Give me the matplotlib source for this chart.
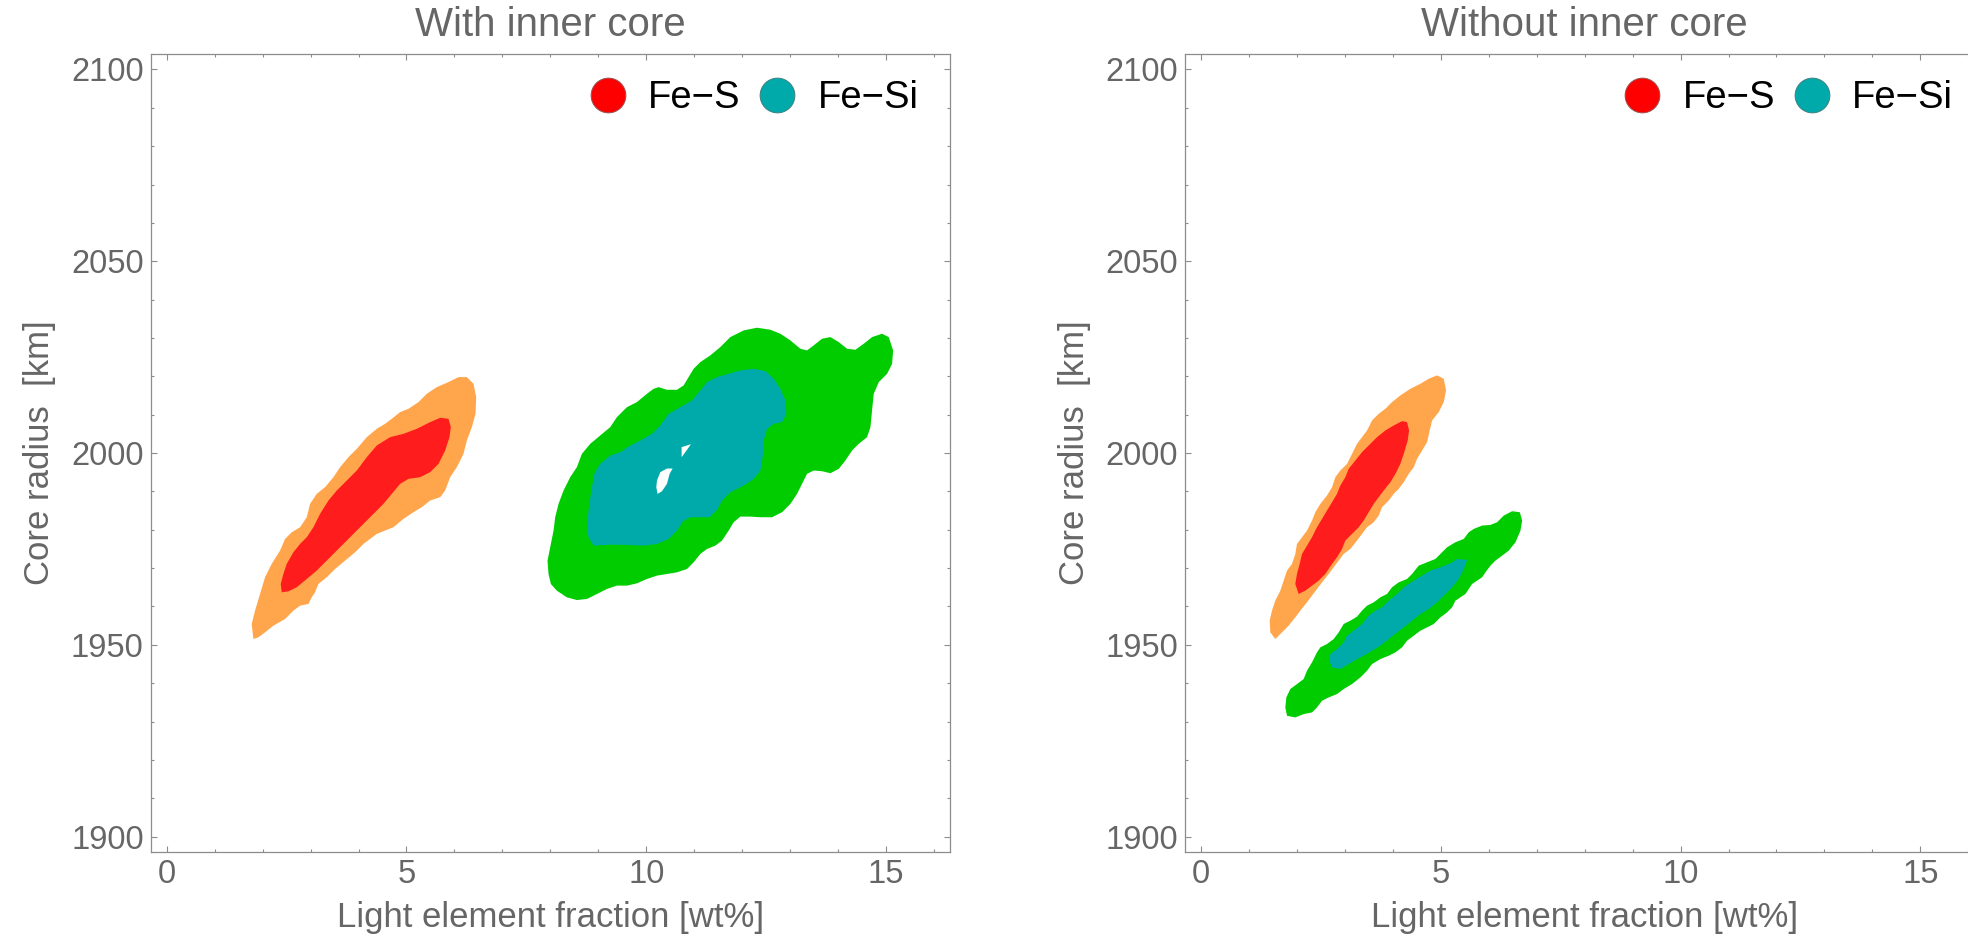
import numpy as np
import matplotlib.pyplot as plt
from matplotlib.lines import Line2D
from matplotlib.ticker import MultipleLocator

plt.rcParams['font.family'] = ['Liberation Sans', 'DejaVu Sans']

# posterior credible regions, (light element wt%, core radius km)

# with inner core, Fe-S
ic_fes_95 = np.array([
    (1.808, 1951.50), (1.773, 1955.42), (1.843, 1958.90), (1.947, 1963.25),
    (2.051, 1967.60), (2.190, 1971.08), (2.364, 1974.56), (2.469, 1977.60),
    (2.608, 1979.34), (2.782, 1980.65), (2.921, 1983.26), (2.990, 1986.74),
    (3.129, 1989.35), (3.303, 1991.09), (3.477, 1993.69), (3.616, 1996.30),
    (3.790, 1998.91), (3.964, 2001.09), (4.173, 2004.13), (4.381, 2006.31),
    (4.555, 2007.61), (4.694, 2008.92), (4.868, 2010.66), (5.042, 2011.53),
    (5.251, 2013.27), (5.424, 2015.44), (5.633, 2017.18), (5.876, 2018.49),
    (6.085, 2019.79), (6.259, 2019.79), (6.398, 2018.05), (6.454, 2014.57),
    (6.440, 2010.22), (6.363, 2006.74), (6.259, 2003.26), (6.189, 1999.78),
    (6.050, 1996.30), (5.911, 1993.69), (5.807, 1990.22), (5.703, 1988.48),
    (5.494, 1987.61), (5.320, 1985.87), (5.146, 1984.56), (4.938, 1982.82),
    (4.729, 1980.65), (4.555, 1979.78), (4.381, 1978.91), (4.242, 1977.60),
    (4.103, 1976.30), (3.929, 1974.12), (3.720, 1971.95), (3.512, 1969.77),
    (3.338, 1967.60), (3.164, 1965.86), (3.094, 1963.68), (3.025, 1962.38),
    (2.955, 1960.64), (2.782, 1960.20), (2.642, 1958.90), (2.469, 1956.72),
    (2.225, 1954.98), (2.051, 1953.24), (1.912, 1951.94),
])
ic_fes_68 = np.array([
    (2.399, 1963.68), (2.378, 1965.86), (2.434, 1968.47), (2.503, 1971.08),
    (2.642, 1974.12), (2.782, 1976.30), (2.921, 1978.04), (3.060, 1980.65),
    (3.199, 1984.13), (3.373, 1987.61), (3.547, 1990.22), (3.755, 1992.82),
    (3.964, 1995.43), (4.173, 1998.91), (4.381, 2001.96), (4.659, 2004.13),
    (4.938, 2005.00), (5.216, 2006.31), (5.494, 2008.05), (5.703, 2009.18),
    (5.876, 2008.92), (5.925, 2006.74), (5.897, 2004.13), (5.807, 2000.65),
    (5.668, 1997.17), (5.494, 1995.00), (5.285, 1993.69), (5.042, 1993.26),
    (4.868, 1991.95), (4.694, 1989.35), (4.520, 1986.74), (4.312, 1984.13),
    (4.103, 1981.52), (3.894, 1978.91), (3.686, 1976.30), (3.477, 1973.69),
    (3.303, 1971.51), (3.129, 1969.34), (2.921, 1967.16), (2.712, 1964.99),
    (2.538, 1963.94),
])

# with inner core, Fe-Si
ic_fesi_95 = np.array([
    (7.962, 1968.46), (7.941, 1971.94), (7.997, 1975.42), (8.067, 1979.77),
    (8.101, 1983.25), (8.171, 1986.73), (8.275, 1990.21), (8.414, 1993.69),
    (8.553, 1996.30), (8.658, 1999.78), (8.832, 2002.39), (9.040, 2004.56),
    (9.249, 2006.74), (9.388, 2009.35), (9.597, 2011.95), (9.805, 2013.26),
    (10.014, 2015.43), (10.153, 2016.74), (10.257, 2017.17), (10.431, 2016.48),
    (10.640, 2016.48), (10.779, 2017.61), (10.883, 2019.78), (10.988, 2021.96),
    (11.127, 2023.70), (11.335, 2025.44), (11.544, 2027.61), (11.753, 2030.22),
    (12.031, 2031.96), (12.309, 2032.66), (12.587, 2032.14), (12.796, 2031.09),
    (13.005, 2029.35), (13.213, 2027.18), (13.352, 2026.74), (13.491, 2028.05),
    (13.665, 2029.79), (13.839, 2030.22), (14.013, 2028.92), (14.187, 2027.18),
    (14.361, 2026.92), (14.535, 2028.48), (14.708, 2030.22), (14.917, 2031.09),
    (15.056, 2030.22), (15.147, 2026.74), (15.126, 2023.26), (15.022, 2020.65),
    (14.848, 2018.48), (14.743, 2015.43), (14.708, 2011.09), (14.674, 2006.74),
    (14.604, 2004.13), (14.430, 2002.39), (14.291, 2000.65), (14.152, 1998.04),
    (14.013, 1995.86), (13.839, 1994.73), (13.665, 1995.25), (13.491, 1995.43),
    (13.352, 1994.56), (13.248, 1991.95), (13.144, 1989.34), (13.005, 1986.73),
    (12.831, 1984.55), (12.622, 1983.25), (12.379, 1983.25), (12.170, 1983.42),
    (11.961, 1983.42), (11.822, 1981.94), (11.718, 1979.77), (11.579, 1977.16),
    (11.440, 1975.85), (11.266, 1974.98), (11.127, 1973.68), (10.988, 1971.50),
    (10.849, 1969.76), (10.640, 1968.89), (10.431, 1968.46), (10.223, 1968.03),
    (10.014, 1967.16), (9.805, 1966.02), (9.597, 1965.42), (9.388, 1965.42),
    (9.179, 1964.55), (8.971, 1963.24), (8.762, 1961.94), (8.553, 1961.67),
    (8.345, 1962.37), (8.136, 1964.11), (8.011, 1965.85),
])
ic_fesi_68 = np.array([
    (8.901, 1975.85), (8.797, 1978.03), (8.762, 1980.64), (8.797, 1984.99),
    (8.845, 1989.34), (8.915, 1994.56), (9.040, 1997.17), (9.249, 1999.34),
    (9.458, 2000.21), (9.666, 2001.95), (9.875, 2003.26), (10.118, 2005.00),
    (10.292, 2007.17), (10.466, 2010.22), (10.709, 2011.95), (10.953, 2013.69),
    (11.127, 2016.30), (11.266, 2018.48), (11.475, 2019.78), (11.718, 2020.65),
    (11.961, 2021.52), (12.240, 2021.96), (12.483, 2021.35), (12.657, 2019.35),
    (12.796, 2016.74), (12.900, 2013.69), (12.921, 2010.22), (12.831, 2008.04),
    (12.657, 2007.61), (12.518, 2006.30), (12.448, 2003.26), (12.427, 1998.91),
    (12.379, 1995.43), (12.240, 1993.25), (12.031, 1991.51), (11.753, 1989.77),
    (11.579, 1987.60), (11.475, 1985.16), (11.321, 1983.25), (11.127, 1983.25),
    (10.918, 1983.25), (10.765, 1982.20), (10.640, 1979.77), (10.466, 1977.59),
    (10.223, 1976.29), (9.944, 1975.85), (9.597, 1976.03), (9.249, 1976.11),
])
# small gaps inside the Fe-Si 68% region
ic_fesi_gaps = [
    np.array([(10.737, 2001.52), (10.932, 2002.30), (10.849, 2000.82),
              (10.737, 1998.91)]),
    np.array([(10.223, 1992.82), (10.292, 1994.99), (10.431, 1995.95),
              (10.549, 1995.95), (10.487, 1994.56), (10.431, 1991.95),
              (10.327, 1990.03), (10.236, 1989.34), (10.209, 1991.08)]),
]

# without inner core, Fe-S
noic_fes_95 = np.array([
    (1.446, 1953.24), (1.432, 1956.29), (1.481, 1958.90), (1.550, 1961.51),
    (1.655, 1964.12), (1.724, 1966.73), (1.794, 1969.34), (1.898, 1971.08),
    (1.967, 1973.69), (2.002, 1976.30), (2.107, 1978.04), (2.211, 1979.78),
    (2.315, 1982.39), (2.385, 1984.56), (2.489, 1986.74), (2.628, 1988.91),
    (2.733, 1991.09), (2.802, 1993.69), (2.906, 1995.43), (3.046, 1997.17),
    (3.150, 1999.78), (3.254, 2002.39), (3.358, 2004.13), (3.463, 2005.87),
    (3.567, 2008.48), (3.706, 2010.22), (3.845, 2011.53), (3.984, 2013.27),
    (4.158, 2015.01), (4.367, 2016.75), (4.576, 2018.05), (4.750, 2019.36),
    (4.923, 2020.23), (5.062, 2019.36), (5.111, 2016.31), (5.062, 2013.27),
    (4.958, 2010.66), (4.819, 2008.48), (4.770, 2005.87), (4.715, 2002.83),
    (4.610, 2000.65), (4.506, 1998.48), (4.437, 1996.30), (4.332, 1994.56),
    (4.228, 1992.39), (4.124, 1990.65), (4.019, 1989.35), (3.915, 1987.61),
    (3.776, 1985.87), (3.706, 1983.69), (3.602, 1981.95), (3.463, 1980.65),
    (3.358, 1978.91), (3.254, 1977.17), (3.115, 1974.99), (2.976, 1973.69),
    (2.872, 1971.95), (2.767, 1970.21), (2.663, 1968.47), (2.524, 1966.29),
    (2.419, 1964.55), (2.315, 1962.81), (2.211, 1961.07), (2.072, 1958.90),
    (1.967, 1957.16), (1.828, 1954.98), (1.689, 1953.24), (1.550, 1951.50),
])
noic_fes_68 = np.array([
    (2.037, 1963.25), (1.967, 1965.86), (2.002, 1968.47), (2.058, 1971.08),
    (2.107, 1973.69), (2.211, 1975.86), (2.315, 1978.04), (2.419, 1980.65),
    (2.524, 1982.82), (2.628, 1985.00), (2.733, 1987.17), (2.837, 1989.35),
    (2.906, 1991.52), (3.011, 1993.69), (3.080, 1995.87), (3.219, 1998.04),
    (3.358, 2000.22), (3.497, 2001.96), (3.671, 2004.13), (3.845, 2005.87),
    (4.019, 2007.18), (4.193, 2008.31), (4.297, 2008.05), (4.339, 2005.87),
    (4.311, 2003.26), (4.228, 1999.78), (4.158, 1997.17), (4.054, 1994.56),
    (3.950, 1992.39), (3.810, 1990.22), (3.706, 1988.48), (3.602, 1986.74),
    (3.497, 1984.56), (3.393, 1982.39), (3.289, 1980.65), (3.150, 1978.91),
    (3.011, 1977.17), (2.941, 1974.99), (2.837, 1972.82), (2.733, 1971.08),
    (2.593, 1968.47), (2.454, 1966.73), (2.315, 1965.42), (2.176, 1964.12),
])

# without inner core, Fe-Si
noic_fesi_95 = np.array([
    (1.794, 1931.50), (1.759, 1933.67), (1.780, 1936.28), (1.863, 1938.46),
    (2.002, 1939.76), (2.141, 1941.07), (2.211, 1943.24), (2.315, 1945.41),
    (2.419, 1948.02), (2.489, 1949.33), (2.628, 1950.20), (2.767, 1951.50),
    (2.872, 1953.24), (2.976, 1955.42), (3.115, 1956.29), (3.254, 1957.33),
    (3.358, 1958.90), (3.463, 1960.20), (3.602, 1961.07), (3.741, 1962.38),
    (3.880, 1963.25), (3.984, 1964.99), (4.124, 1966.29), (4.297, 1967.16),
    (4.402, 1968.47), (4.541, 1970.64), (4.715, 1971.51), (4.889, 1972.38),
    (4.993, 1973.69), (5.132, 1975.43), (5.306, 1976.73), (5.480, 1977.60),
    (5.584, 1979.34), (5.688, 1980.21), (5.862, 1981.08), (6.036, 1981.25),
    (6.175, 1981.95), (6.314, 1983.69), (6.488, 1984.82), (6.648, 1984.56),
    (6.697, 1982.39), (6.662, 1979.78), (6.558, 1976.73), (6.419, 1974.56),
    (6.280, 1973.25), (6.140, 1971.95), (6.036, 1970.64), (5.932, 1968.90),
    (5.862, 1967.60), (5.758, 1966.73), (5.654, 1965.86), (5.584, 1964.55),
    (5.515, 1963.25), (5.410, 1962.38), (5.306, 1961.51), (5.236, 1959.77),
    (5.132, 1958.46), (4.993, 1957.16), (4.854, 1955.42), (4.715, 1954.55),
    (4.576, 1953.68), (4.437, 1952.37), (4.297, 1951.07), (4.193, 1949.33),
    (4.054, 1948.02), (3.915, 1947.15), (3.741, 1946.28), (3.567, 1944.98),
    (3.463, 1943.24), (3.324, 1941.50), (3.150, 1939.76), (2.976, 1938.46),
    (2.837, 1937.15), (2.663, 1936.28), (2.524, 1935.41), (2.419, 1933.67),
    (2.315, 1932.37), (2.141, 1931.93), (1.967, 1931.06),
])
noic_fesi_68 = np.array([
    (2.733, 1944.11), (2.677, 1945.85), (2.698, 1947.59), (2.837, 1948.89),
    (2.976, 1950.63), (3.046, 1952.37), (3.185, 1953.68), (3.358, 1955.42),
    (3.497, 1957.59), (3.637, 1958.90), (3.776, 1959.77), (3.915, 1961.51),
    (4.089, 1963.25), (4.228, 1964.99), (4.437, 1966.73), (4.610, 1968.03),
    (4.784, 1969.34), (4.993, 1970.21), (5.202, 1971.25), (5.341, 1972.38),
    (5.550, 1972.12), (5.480, 1969.77), (5.375, 1967.16), (5.236, 1964.99),
    (5.062, 1962.81), (4.923, 1961.07), (4.750, 1959.33), (4.576, 1958.03),
    (4.402, 1956.29), (4.228, 1954.55), (4.089, 1953.24), (3.915, 1951.50),
    (3.741, 1949.76), (3.567, 1948.46), (3.393, 1947.15), (3.254, 1946.28),
    (3.080, 1944.98), (2.906, 1943.68),
])

titles = ["With inner core", "Without inner core"]
legend_labels = ["Fe\u2212S", "Fe\u2212Si"]

ORANGE = '#ffa64d'
RED = '#ff1c1c'
GREEN = '#00cc00'
TEAL = '#00aaaa'
FRAME = '#8c8c8c'
LABEL = '#666666'


def fill_region(ax, pts, color):
    ax.fill(pts[:, 0], pts[:, 1], color=color, lw=0)


def style_axes(ax, title):
    ax.set_xlim(-0.333, 16.333)
    ax.set_ylim(1895.9, 2104.1)
    ax.xaxis.set_major_locator(MultipleLocator(5))
    ax.xaxis.set_minor_locator(MultipleLocator(1))
    ax.yaxis.set_major_locator(MultipleLocator(50))
    ax.yaxis.set_minor_locator(MultipleLocator(10))
    ax.tick_params(which='both', direction='in', top=True, right=True,
                   color=FRAME, width=0.8, labelcolor=LABEL, labelsize=23.5)
    ax.tick_params(which='major', length=4.3)
    ax.tick_params(which='minor', length=2.4)
    ax.tick_params(axis='x', pad=5)
    ax.tick_params(axis='y', pad=5)
    for s in ax.spines.values():
        s.set_color(FRAME)
        s.set_linewidth(0.9)
    ax.set_title(title, fontsize=29, color=LABEL, pad=13)
    ax.set_xlabel("Light element fraction [wt%]", fontsize=25,
                  color=LABEL, labelpad=8)
    ax.set_ylabel("Core radius  [km]", fontsize=25, color=LABEL, labelpad=10.5)

    handles = [
        Line2D([], [], ls='', marker='o', markersize=25, markerfacecolor='#ff0000',
               markeredgecolor='#9a5050', markeredgewidth=0.7),
        Line2D([], [], ls='', marker='o', markersize=25, markerfacecolor=TEAL,
               markeredgecolor='#3f8080', markeredgewidth=0.7),
    ]
    ax.legend(handles, legend_labels, loc='upper right', ncol=2, frameon=False,
              fontsize=27.5, handlelength=0.92, handletextpad=0.6,
              columnspacing=0.5, borderpad=0, borderaxespad=0,
              bbox_to_anchor=(0.961, 0.967))


fig = plt.figure(figsize=(19.68, 9.41), dpi=100)
fig.patch.set_facecolor('white')
ax1 = fig.add_axes([0.07657, 0.09426, 0.40615, 0.84867])
ax2 = fig.add_axes([0.60213, 0.09426, 0.40615, 0.84867])

fill_region(ax1, ic_fes_95, ORANGE)
fill_region(ax1, ic_fes_68, RED)
fill_region(ax1, ic_fesi_95, GREEN)
fill_region(ax1, ic_fesi_68, TEAL)
for gap in ic_fesi_gaps:
    fill_region(ax1, gap, 'white')

fill_region(ax2, noic_fes_95, ORANGE)
fill_region(ax2, noic_fes_68, RED)
fill_region(ax2, noic_fesi_95, GREEN)
fill_region(ax2, noic_fesi_68, TEAL)

style_axes(ax1, titles[0])
style_axes(ax2, titles[1])

fig.savefig('out.png', dpi=100)
